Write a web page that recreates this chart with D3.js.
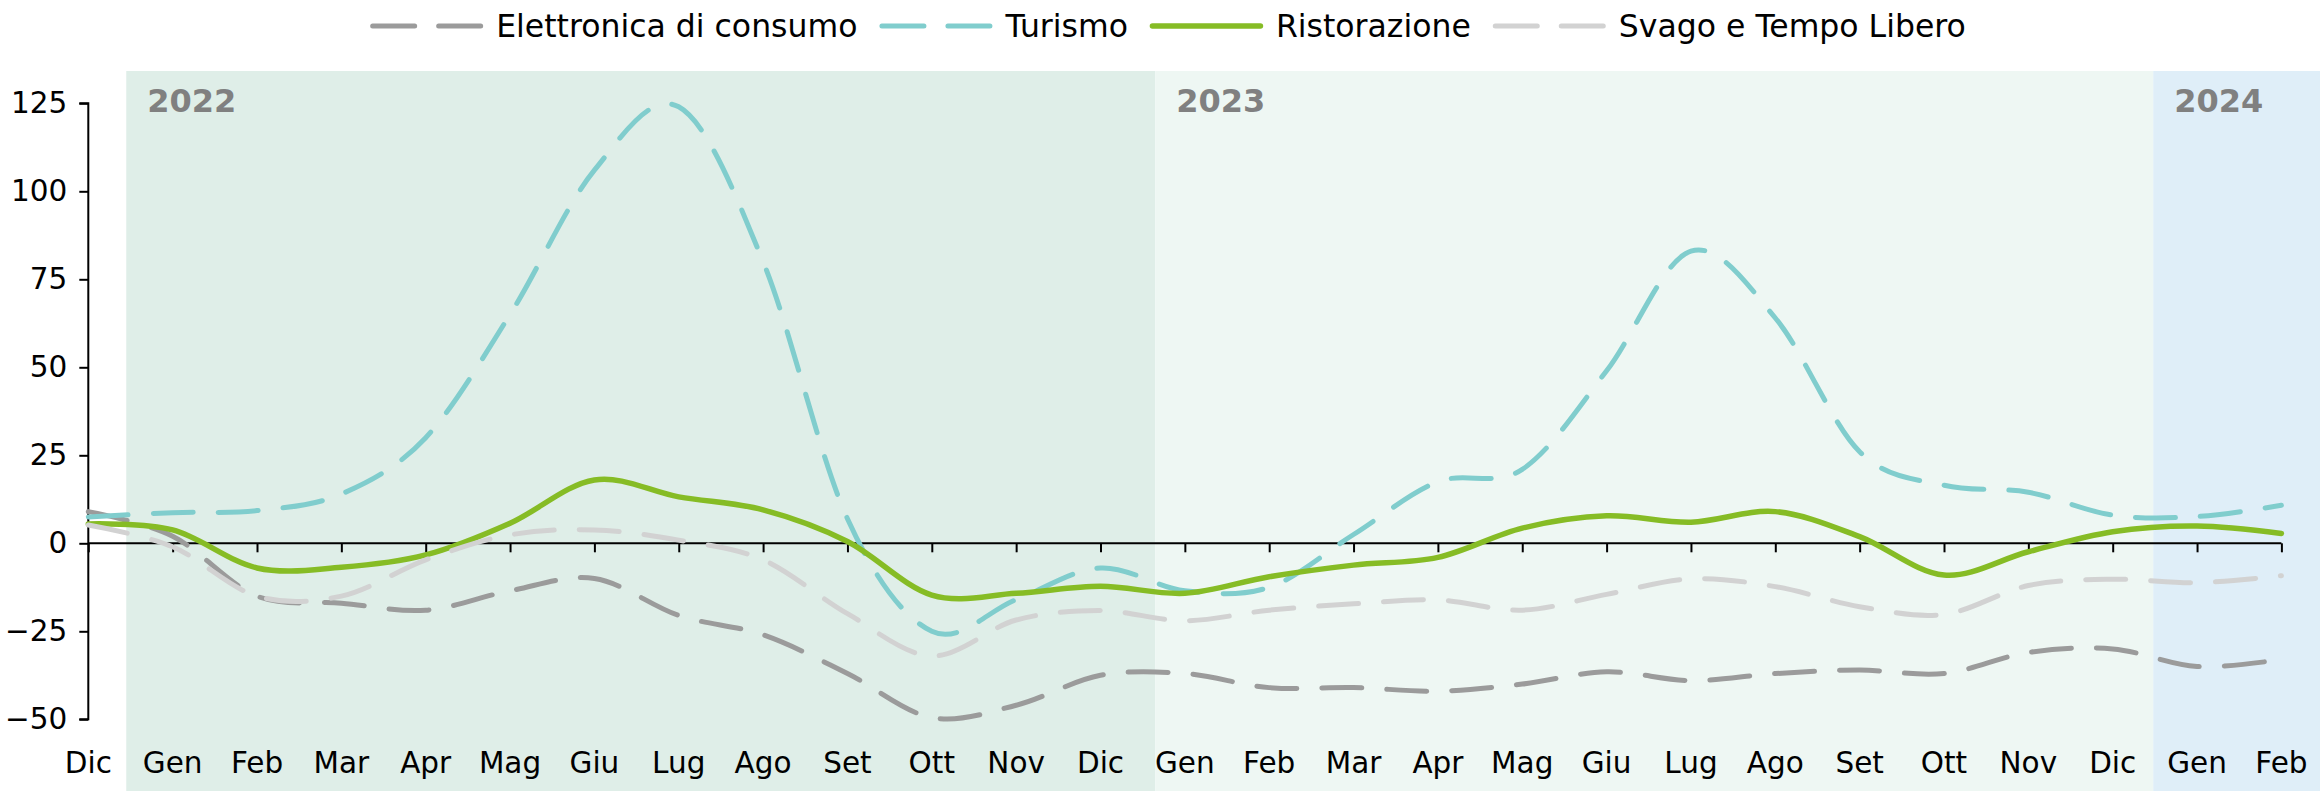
<!DOCTYPE html>
<html>
<head>
<meta charset="utf-8">
<script src="https://cdn.jsdelivr.net/npm/d3@7"></script>
<style>
  html, body { margin: 0; padding: 0; background: #fff; }
  svg { display: block; font-family: "DejaVu Sans", Verdana, sans-serif; }
</style>
</head>
<body>
<svg id="chart" width="2320" height="791"></svg>
<script>
// Data
const months = ["Dic", "Gen", "Feb", "Mar", "Apr", "Mag", "Giu", "Lug", "Ago", "Set", "Ott", "Nov", "Dic",
  "Gen", "Feb", "Mar", "Apr", "Mag", "Giu", "Lug", "Ago", "Set", "Ott", "Nov", "Dic", "Gen", "Feb"];

const elettronica = [9, 2, -15, -17, -19, -13.5, -10, -20.5, -26, -37, -49.5, -46, -37.5,
  -37, -41, -41, -42, -40, -36.5, -39, -37, -36, -37, -31, -30, -35, -33];
const turismo = [7.5, 8.7, 9.3, 14, 30, 65, 106, 124, 80, 7, -25, -16, -7,
  -13.5, -12.5, 2.5, 17.5, 21, 49, 83, 64, 26, 16.5, 14.5, 8, 7.6, 10.8];
const ristorazione = [5.5, 3.8, -7, -6.8, -3.3, 5.7, 18, 13.2, 9.5, 0.5, -14.7, -14.2, -12.2,
  -14.2, -9.5, -6.2, -4, 4.3, 7.8, 6, 9, 1.9, -9, -2.4, 3.3, 4.9, 2.8];
const svago = [5.2, -1, -15, -15, -4.7, 2.4, 3.8, 0.9, -4.7, -20, -32, -21.8, -19.1,
  -22, -19, -17.2, -16.1, -19, -14.5, -10.1, -12.3, -18, -20.2, -12, -10.2, -11.2, -9.2];

const seriesNames = ["Elettronica di consumo", "Turismo", "Ristorazione", "Svago e Tempo Libero"];
const yTicks = [-50, -25, 0, 25, 50, 75, 100, 125];

// year shading, in month-index units
const years = ["2022", "2023", "2024"];
const yearStart = [0.45, 12.65, 24.48];

const series = [
  { name: seriesNames[0], values: elettronica, color: "#9b9b9b", dashed: true, width: 5 },
  { name: seriesNames[1], values: turismo, color: "#80cdcd", dashed: true, width: 5 },
  { name: seriesNames[2], values: ristorazione, color: "#86bc25", dashed: false, width: 5.5 },
  { name: seriesNames[3], values: svago, color: "#d2d2d2", dashed: true, width: 5 }
];

const width = 2320, height = 791;
const dash = "40,25";

const svg = d3.select("#chart");

const x = d3.scaleLinear().domain([0, months.length - 1]).range([88.3, 2281.4]);
const y = d3.scaleLinear().domain([-50, 125]).range([719.3, 103.3]);

// background bands
const bandColors = ["#dfeee8", "#eef7f3", "#dfeef8"];
const bands = svg.append("g");
years.forEach((yr, i) => {
  const x0 = x(yearStart[i]);
  const x1 = i < years.length - 1 ? x(yearStart[i + 1]) : width;
  bands.append("rect")
    .attr("x", x0).attr("y", 71)
    .attr("width", x1 - x0).attr("height", height - 71)
    .attr("fill", bandColors[i]);
  bands.append("text")
    .attr("x", x0 + 21).attr("y", 112)
    .attr("font-size", 32).attr("font-weight", "bold")
    .attr("fill", "#808080")
    .text(yr);
});

// y axis
const yAxis = svg.append("g")
  .attr("transform", `translate(${x(0)},0)`)
  .call(d3.axisLeft(y).tickValues(yTicks).tickSize(9).tickPadding(12));
yAxis.select(".domain").attr("stroke", "#000").attr("stroke-width", 2)
  .attr("d", `M-9,${y(125)}H0V${y(-50)}H-9`);
yAxis.selectAll(".tick line").attr("stroke", "#000").attr("stroke-width", 2);
yAxis.selectAll(".tick text").attr("font-size", 29.5).attr("fill", "#000")
  .attr("font-family", "DejaVu Sans, Verdana, sans-serif");

// x axis on zero line
const xAxis = svg.append("g")
  .attr("transform", `translate(0,${y(0)})`)
  .call(d3.axisBottom(x).tickValues(d3.range(months.length)).tickSize(9).tickFormat(""));
xAxis.select(".domain").attr("stroke", "#000").attr("stroke-width", 2)
  .attr("d", `M${x(0)},0H${x(months.length - 1)}`);
xAxis.selectAll(".tick line").attr("stroke", "#000").attr("stroke-width", 2);

// month labels at bottom
svg.append("g")
  .selectAll("text")
  .data(months)
  .join("text")
  .attr("x", (d, i) => x(i))
  .attr("y", 773)
  .attr("text-anchor", "middle")
  .attr("font-size", 29.5)
  .attr("fill", "#000")
  .text(d => d);

// lines
const line = d3.line()
  .x((d, i) => x(i))
  .y(d => y(d))
  .curve(d3.curveCatmullRom.alpha(0));

svg.append("g")
  .selectAll("path")
  .data(series)
  .join("path")
  .attr("d", d => line(d.values))
  .attr("fill", "none")
  .attr("stroke", d => d.color)
  .attr("stroke-width", d => d.width)
  .attr("stroke-linecap", "round")
  .attr("stroke-dasharray", d => d.dashed ? dash : null);

// legend
const legend = svg.append("g");
let lx = 0;
series.forEach((s, i) => {
  const item = legend.append("g").attr("transform", `translate(${lx},0)`);
  item.append("line")
    .attr("x1", 2.5).attr("x2", 110.5)
    .attr("y1", 26).attr("y2", 26)
    .attr("stroke", s.color)
    .attr("stroke-width", s.width)
    .attr("stroke-linecap", "round")
    .attr("stroke-dasharray", s.dashed ? "42,24" : null);
  const t = item.append("text")
    .attr("x", 126).attr("y", 37)
    .attr("font-size", 31.5)
    .attr("fill", "#000")
    .text(s.name);
  lx += 126 + t.node().getComputedTextLength() + 22;
});
const legendWidth = lx - 22;
legend.attr("transform", `translate(${(width - legendWidth) / 2 + 8},0)`);
</script>
</body>
</html>
